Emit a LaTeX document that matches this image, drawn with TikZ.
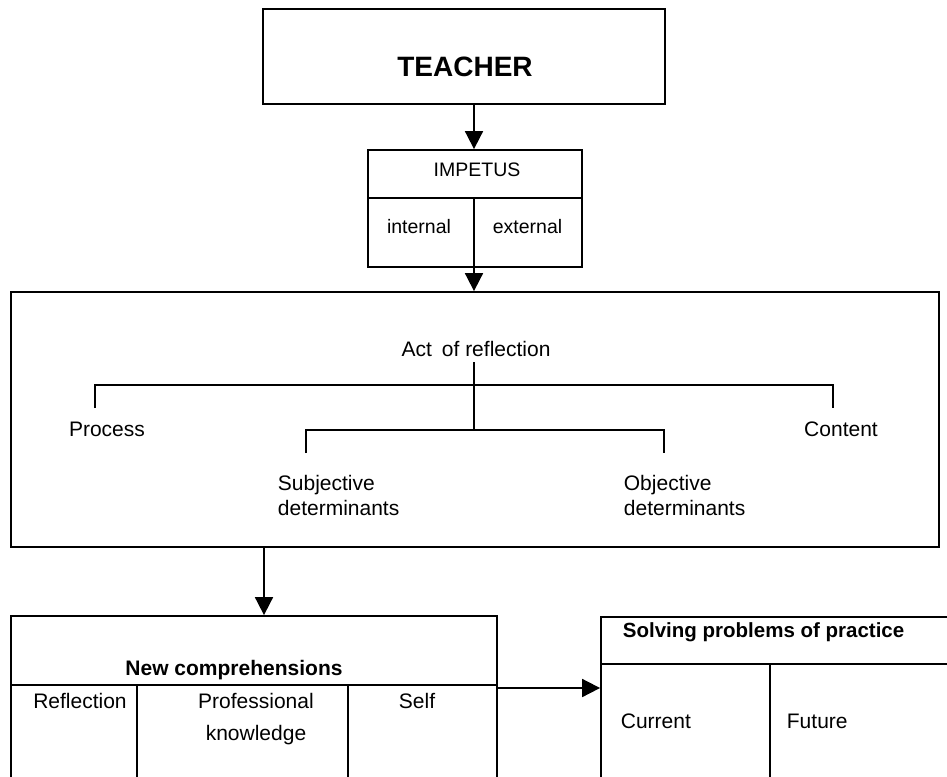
\documentclass[tikz,border=0pt]{standalone}
\usepackage{fontspec}
\setmainfont{Liberation Sans}
\usetikzlibrary{arrows.meta}
\begin{document}
\begin{tikzpicture}[x=1pt,y=-1pt,line width=1.8pt,
  box/.style={draw,rectangle,inner sep=0pt,line width=1.8pt},
  arr/.style={-{Triangle[length=18pt,width=18pt]}},
  txt/.style={inner sep=0pt,font=\fontsize{21}{25}\selectfont},
  small/.style={inner sep=0pt,font=\fontsize{19.5}{23}\selectfont},
  bold/.style={inner sep=0pt,font=\bfseries\fontsize{21}{25}\selectfont},
]
\useasboundingbox (0,0) rectangle (947,776);
\clip (0,0) rectangle (947,776);

% TEACHER
\node[box,minimum width=402pt,minimum height=95pt] (teacher) at (464,56.5) {};
\node[inner sep=0pt,anchor=base,font=\bfseries\fontsize{28}{32}\selectfont] (teachert) at (465,77) {TEACHER};

% IMPETUS
\node[box,minimum width=214pt,minimum height=117pt] (imp) at (475,208.5) {};
\coordinate (impmid) at (474,198);
\draw (imp.west |- impmid) -- (imp.east |- impmid);
\draw (impmid) -- (impmid |- imp.south);
\node[small,anchor=base] (impt) at (477,176) {IMPETUS};
\node[small,anchor=base] (int) at (419,233) {internal};
\node[small,anchor=base] (ext) at (527.5,233) {external};

\draw[arr] (teacher.south -| impmid) -- (imp.north -| impmid);

% Act of reflection box
\node[box,minimum width=928pt,minimum height=255pt] (big) at (475,419.5) {};
\draw[arr] (imp.south -| impmid) -- (big.north -| impmid);

\node[txt,anchor=base] (act) at (476,356) {Act\hspace{0.2em} of reflection};
\node[txt,anchor=base] (proc) at (107,436) {Process};
\node[txt,anchor=base] (cont) at (841,436) {Content};
\node[txt,anchor=base west,align=left] (subj) at (277,515) {Subjective\\determinants};
\node[txt,anchor=base west,align=left] (obj) at (623,515) {Objective\\determinants};

\coordinate (actb) at (474,362);
\coordinate (hub1) at (474,385);
\coordinate (hub2) at (474,430);
\coordinate (pL) at (95,408);
\coordinate (cR) at (833,408);
\coordinate (sL) at (306,453);
\coordinate (oR) at (664,453);
\draw (actb) -- (hub2);
\draw (pL) |- (hub1) -| (cR);
\draw (sL) |- (hub2) -| (oR);

% New comprehensions
\node[box,minimum width=486pt,minimum height=200pt] (nc) at (254,716) {};
\coordinate (c1) at (137,685);
\coordinate (c2) at (348,685);
\draw (nc.west |- c1) -- (nc.east |- c1);
\draw (c1) -- (c1 |- nc.south);
\draw (c2) -- (c2 |- nc.south);
\node[bold,anchor=base] (nct) at (234,675) {New comprehensions};
\node[txt,anchor=base] (refl) at (80,708) {Reflection};
\node[txt,anchor=base,align=center,font=\fontsize{21}{32}\selectfont] (prof) at (256,740) {Professional\\knowledge};
\node[txt,anchor=base] (self) at (417,708) {Self};

\coordinate (ax) at (264,0);
\draw[arr] (big.south -| ax) -- (nc.north -| ax);

% Solving problems of practice
\node[box,minimum width=400pt,minimum height=200pt] (sp) at (801,717) {};
\coordinate (c3) at (770,664);
\draw (sp.west |- c3) -- (sp.east |- c3);
\draw (c3) -- (c3 |- sp.south);
\node[inner sep=0pt,anchor=base west,font=\bfseries\fontsize{20.5}{24}\selectfont] (spt) at (622,637) {Solving problems of practice};
\node[txt,anchor=base west] (cur) at (620,728) {Current};
\node[txt,anchor=base west] (fut) at (786,728) {Future};

\coordinate (ay) at (0,688);
\draw[arr] (nc.east |- ay) -- (sp.west |- ay);
\end{tikzpicture}
\end{document}
